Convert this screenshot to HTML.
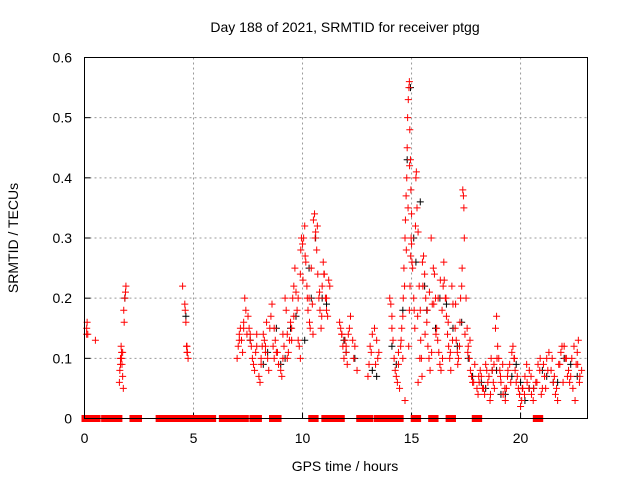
<!DOCTYPE html>
<html><head><meta charset="utf-8"><style>
html,body{margin:0;padding:0;background:#fff;}
svg{display:block;font-family:"Liberation Sans",sans-serif;}
</style></head><body>
<svg id="chart" width="640" height="480" viewBox="0 0 640 480" xmlns="http://www.w3.org/2000/svg">
<rect width="640" height="480" fill="#fff"/>
<text x="345" y="32" font-size="14" text-anchor="middle">Day 188 of 2021, SRMTID for receiver ptgg</text>
<text x="345" y="471" font-size="14" text-anchor="middle">GPS time / hours</text>
<text x="18" y="238" font-size="14" text-anchor="middle" transform="rotate(-90 18 238)">SRMTID / TECUs</text>
<g id="grid"></g><g id="ticks"></g><g id="zeros"></g><g id="black"></g><g id="red"></g>
<rect x="84.5" y="57.5" width="503" height="361" fill="none" stroke="#000" stroke-width="1"/>
</svg>
<script>
const xTicks=[0,5,10,15,20];
const yTicks=[0,0.1,0.2,0.3,0.4,0.5,0.6];
const yTickLabels=["0","0.1","0.2","0.3","0.4","0.5","0.6"];
const zeroStart=[0,0.9,1.2,1.5,2.2,3.4,3.7,4.0,4.9,6.3,7.2,7.7,8.6,10.4,11.0,11.3,12.6,12.9,13.4,14.3,15.1,15.9,16.7,17.9,20.7];
const zeroEnd=[0.6,1.0,1.25,1.6,2.5,3.6,4.0,4.7,5.9,7.0,7.4,8.0,8.9,10.6,11.1,11.8,12.8,13.1,14.1,14.5,15.3,16.1,16.9,18.1,20.9];
const redT=[0.1,0.1,0.12,0.5,
1.6,1.62,1.65,1.68,1.7,1.72,1.75,1.78,1.7,1.8,1.85,1.88,1.9,1.82,
4.5,4.6,4.62,4.65,4.7,4.72,4.75,4.68,
7.0,7.05,7.1,7.15,7.2,7.25,7.3,7.35,7.4,7.45,
7.5,7.55,7.6,7.65,7.7,7.75,7.8,7.85,7.9,
8.0,8.05,8.1,8.15,8.2,8.25,8.3,8.35,8.4,
8.5,8.55,8.6,8.65,8.7,8.75,8.8,8.9,
9.0,9.05,9.1,9.15,9.2,9.25,9.3,9.35,9.4,9.45,
9.5,9.55,9.6,9.65,9.7,9.75,9.8,9.85,9.9,9.92,9.95,
10.0,10.05,10.1,10.15,10.2,10.25,10.3,10.35,10.4,10.45,
10.5,10.55,10.6,10.65,10.7,10.75,10.8,10.85,10.9,10.95,
11.0,11.05,11.1,11.15,11.2,
11.7,11.75,11.8,11.85,11.9,11.95,12.0,12.05,12.1,12.2,12.3,12.4,12.5,
13.0,13.05,13.1,13.2,13.3,13.4,13.45,13.5,
14.0,14.05,14.1,14.15,14.2,14.25,14.3,14.35,14.4,14.45,
14.5,14.55,14.6,14.62,14.65,14.7,14.72,14.75,14.78,14.8,14.82,14.85,14.88,14.9,14.92,14.95,14.97,15.0,14.98,14.96,14.93,14.9,14.87,14.6,14.7,
15.0,15.05,15.1,15.15,15.2,15.22,15.25,15.3,15.35,15.4,15.42,15.45,15.48,15.3,
15.5,15.55,15.6,15.65,15.7,15.75,15.8,15.85,15.9,15.95,
16.0,16.05,16.1,16.15,16.2,16.25,16.3,16.35,16.4,16.45,16.48,
16.5,16.55,16.6,16.65,16.7,16.75,16.8,16.85,16.9,
17.0,17.05,17.1,17.15,17.2,17.25,17.3,17.35,17.38,17.4,17.42,
17.5,17.55,17.6,17.65,17.7,17.75,17.8,17.9,
18.0,18.05,18.1,18.15,18.2,18.3,18.35,18.4,18.5,18.55,18.6,18.65,18.7,18.75,18.8,18.85,18.9,18.95,
19.0,19.05,19.1,19.2,19.3,19.35,19.4,19.5,19.6,19.65,19.7,19.75,19.8,19.9,19.95,
20.0,20.05,20.1,20.2,20.3,20.4,20.5,20.6,20.7,20.8,20.9,20.95,
21.0,21.1,21.2,21.3,21.4,21.5,21.6,21.7,21.8,21.9,21.95,
22.0,22.1,22.2,22.3,22.4,22.5,22.55,22.6,22.65,22.7,22.8];
const redV=[0.15,0.14,0.16,0.13,
0.06,0.08,0.1,0.12,0.11,0.09,0.07,0.05,0.1,0.18,0.2,0.21,0.22,0.16,
0.22,0.19,0.18,0.16,0.12,0.11,0.1,0.12,
0.1,0.12,0.14,0.15,0.13,0.11,0.16,0.2,0.18,0.14,
0.17,0.15,0.13,0.12,0.1,0.09,0.08,0.11,0.14,
0.07,0.06,0.09,0.12,0.14,0.13,0.11,0.16,0.1,
0.15,0.17,0.19,0.12,0.1,0.13,0.11,0.09,
0.08,0.07,0.1,0.12,0.2,0.18,0.14,0.11,0.13,0.16,
0.15,0.2,0.22,0.25,0.21,0.18,0.13,0.12,0.1,0.28,0.3,
0.29,0.3,0.32,0.26,0.22,0.18,0.2,0.15,0.25,0.19,
0.33,0.34,0.31,0.28,0.24,0.2,0.18,0.15,0.22,0.26,
0.24,0.2,0.18,0.17,0.23,
0.16,0.15,0.14,0.12,0.1,0.13,0.11,0.09,0.14,0.17,0.13,0.12,0.08,
0.07,0.09,0.12,0.14,0.15,0.13,0.1,0.11,
0.2,0.19,0.15,0.13,0.1,0.08,0.07,0.06,0.11,0.05,
0.12,0.15,0.17,0.2,0.25,0.3,0.33,0.37,0.4,0.45,0.5,0.53,0.55,0.56,0.48,0.43,0.38,0.34,0.3,0.27,0.22,0.18,0.12,0.1,0.03,
0.29,0.25,0.2,0.15,0.4,0.41,0.35,0.31,0.22,0.18,0.13,0.1,0.07,0.06,
0.26,0.27,0.24,0.2,0.16,0.12,0.1,0.08,0.3,0.19,
0.25,0.24,0.2,0.15,0.13,0.11,0.09,0.08,0.18,0.22,0.26,
0.23,0.2,0.17,0.14,0.12,0.1,0.08,0.22,0.19,
0.15,0.13,0.11,0.1,0.12,0.2,0.22,0.38,0.37,0.35,0.3,
0.2,0.15,0.12,0.1,0.08,0.07,0.06,0.09,
0.05,0.04,0.06,0.08,0.07,0.05,0.04,0.09,0.06,0.07,0.03,0.1,0.08,0.06,0.05,0.15,0.17,0.12,
0.1,0.08,0.06,0.04,0.03,0.05,0.07,0.09,0.11,0.12,0.1,0.08,0.06,0.05,0.04,
0.02,0.03,0.05,0.07,0.06,0.08,0.04,0.05,0.06,0.09,0.1,0.04,
0.05,0.07,0.1,0.11,0.08,0.06,0.04,0.03,0.09,0.12,0.06,
0.12,0.1,0.08,0.07,0.05,0.03,0.09,0.11,0.13,0.06,0.08];
const redT2=[0.15,1.65,1.75,4.7,7.1,7.3,7.6,7.9,8.1,8.3,8.45,8.7,8.85,9.1,9.3,9.5,9.6,9.8,9.9,10.02,10.12,10.22,10.32,10.48,10.58,10.68,10.78,10.88,10.98,11.1,11.25,11.8,12.0,12.15,12.35,13.15,13.35,14.1,14.4,14.52,14.68,14.76,14.84,14.91,15.02,15.12,15.18,15.28,15.38,15.52,15.62,15.72,15.82,15.92,16.02,16.12,16.22,16.32,16.42,16.58,16.68,16.78,16.88,17.02,17.12,17.22,17.32,17.45,17.58,17.68,17.85,18.08,18.25,18.45,18.62,18.78,18.92,19.08,19.18,19.28,19.42,19.55,19.72,19.85,20.08,20.18,20.28,20.38,20.48,20.58,20.75,20.88,21.05,21.15,21.25,21.45,21.55,21.65,21.75,21.85,22.05,22.15,22.25,22.35,22.45,22.62,22.72];
const redV2=[0.14,0.09,0.11,0.11,0.13,0.15,0.14,0.12,0.1,0.12,0.08,0.15,0.11,0.14,0.1,0.13,0.17,0.2,0.24,0.23,0.27,0.2,0.16,0.14,0.3,0.32,0.21,0.17,0.24,0.2,0.22,0.14,0.12,0.15,0.1,0.11,0.09,0.17,0.09,0.13,0.22,0.28,0.35,0.42,0.26,0.18,0.32,0.17,0.1,0.22,0.14,0.18,0.21,0.11,0.19,0.14,0.2,0.23,0.1,0.2,0.16,0.11,0.13,0.19,0.09,0.16,0.25,0.14,0.11,0.13,0.06,0.07,0.05,0.08,0.04,0.09,0.1,0.07,0.09,0.05,0.08,0.06,0.1,0.07,0.05,0.04,0.09,0.05,0.07,0.03,0.06,0.08,0.09,0.05,0.08,0.1,0.07,0.05,0.09,0.11,0.1,0.07,0.06,0.1,0.12,0.09,0.07];
const blackT=[1.85,4.65,7.6,8.2,8.8,9.2,9.7,10.1,10.4,10.6,11.1,12.0,13.2,14.3,14.8,14.95,15.2,15.4,15.7,16.3,16.9,17.3,17.8,18.4,18.9,19.3,19.8,20.2,20.6,21.2,21.7,22.3,8.4,9.0,9.45,10.3,10.9,11.9,12.4,13.4,14.1,14.6,15.1,15.6,16.1,16.6,17.1,17.6,18.2,18.7,19.1,19.6,20.0,20.4,21.0,21.5,22.0,22.6];
const blackV=[0.2,0.17,0.13,0.09,0.15,0.1,0.17,0.13,0.2,0.3,0.19,0.11,0.08,0.09,0.43,0.55,0.26,0.36,0.18,0.2,0.15,0.16,0.07,0.05,0.08,0.04,0.09,0.03,0.05,0.07,0.06,0.09,0.11,0.09,0.15,0.25,0.2,0.13,0.1,0.07,0.12,0.18,0.3,0.22,0.15,0.19,0.12,0.1,0.06,0.08,0.04,0.07,0.06,0.05,0.08,0.06,0.1,0.07];

const X0=84.5,X1=587.5,Y0=418.5,Y1=57.5,XMAX=23.07,YMAX=0.6;
const xs=t=>X0+(X1-X0)*t/XMAX;
const ys=v=>Y0-(Y0-Y1)*v/YMAX;
const NS="http://www.w3.org/2000/svg";
function mk(tag,attrs,parent){const e=document.createElementNS(NS,tag);for(const k in attrs)e.setAttribute(k,attrs[k]);document.getElementById(parent).appendChild(e);return e;}
xTicks.forEach((t,i)=>{
  const x=xs(t);
  if(i>0){const g=mk('line',{x1:x,x2:x,y1:Y1,y2:Y0,stroke:'#999','stroke-dasharray':'2,3'},'grid');
  
  }
  const tk=mk('line',{x1:x,x2:x,y1:Y0,y2:Y0-6,stroke:'#000'},'ticks');
  
  
  const lb=mk('text',{x:x,y:443,'font-size':14,'text-anchor':'middle'},'ticks');lb.textContent=String(t);
  
  
});
yTicks.forEach((v,i)=>{
  const y=ys(v);
  if(i>0){const g=mk('line',{x1:X0,x2:X1,y1:y,y2:y,stroke:'#999','stroke-dasharray':'2,3'},'grid');
  
  }
  const tk=mk('line',{x1:X0,x2:X0+6,y1:y,y2:y,stroke:'#000'},'ticks');
  
  
  const lb=mk('text',{x:72,y:y+5,'font-size':14,'text-anchor':'end'},'ticks');lb.textContent=yTickLabels[i];
  
  
});
zeroStart.forEach((s,i)=>{
  const x=xs(s)-3,w=Math.max(xs(zeroEnd[i])-xs(s)+6,5);
  const r=mk('rect',{x:x,y:Y0-3.5,width:w,height:7,fill:'#f00'},'zeros');
  
  
});
function plus(t,v,col,parent,name){
  const x=xs(t),y=ys(v);
  const p=mk('path',{d:`M${x-3.5} ${y}H${x+3.5}M${x} ${y-3.5}V${y+3.5}`,stroke:col,'stroke-width':1,fill:'none'},parent);
  
  
}
blackT.forEach((t,i)=>plus(t,blackV[i],'#000','black','black-point'));
redT.forEach((t,i)=>plus(t,redV[i],'#f00','red','red-point'));
redT2.forEach((t,i)=>plus(t,redV2[i],'#f00','red','red-point'));
</script>
</body></html>
